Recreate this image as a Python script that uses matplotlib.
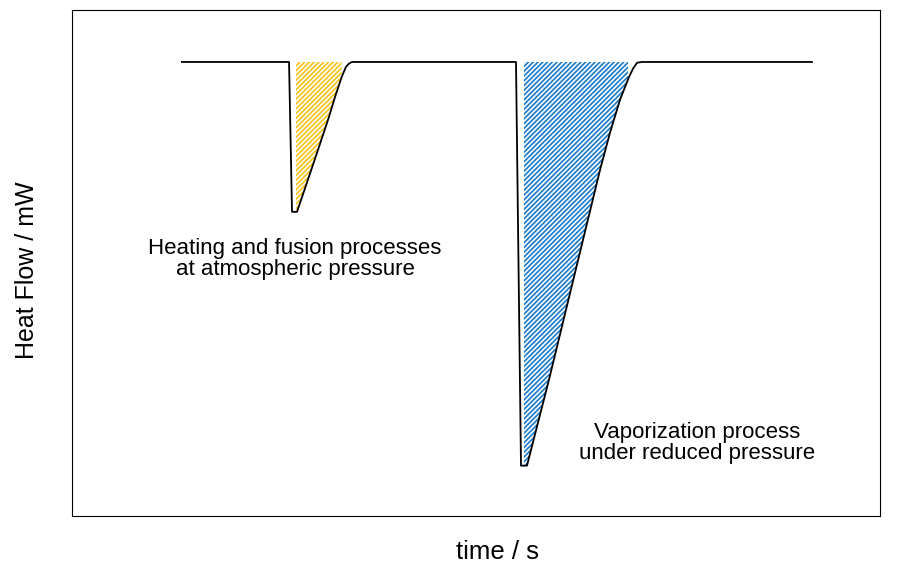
import matplotlib
matplotlib.use("Agg")
import matplotlib.pyplot as plt
import numpy as np

plt.rcParams['font.family'] = ['Liberation Sans', 'DejaVu Sans']
plt.rcParams['hatch.linewidth'] = 1.25

# heat flow trace (time in s, heat flow in mW, arbitrary scale)
time = [13.6, 26.86, 27.23, 27.85, 30.45, 31.81, 32.55, 33.38, 33.91, 34.28, 34.65,
        54.95, 55.57, 56.31, 59.03, 65.35, 66.58, 67.82, 68.94, 69.45, 69.93, 70.54, 91.58]
heat_flow = [0.0, 0.0, -3.72, -3.72, -2.18, -1.36, -0.87, -0.37, -0.12, -0.04, 0.0,
             0.0, -10.02, -10.02, -7.89, -2.68, -1.76, -0.94, -0.37, -0.16, -0.02, 0.0, 0.0]

# integrated regions (start, end time) and colours
fill_ranges = [(27.72, 33.38), (55.94, 68.81)]
fill_colors = ['#F7C31C', '#1F7DCB']

labels = ["Heating and fusion processes\nat atmospheric pressure",
          "Vaporization process\nunder reduced pressure"]
label_pos = [(27.6, -4.89), (77.4, -9.45)]

fig = plt.figure(figsize=(9.05, 5.65), dpi=100)
ax = fig.add_axes([72 / 905, 49 / 565, 808 / 905, 506 / 565])

t = np.array(time)
hf = np.array(heat_flow)

for (t0, t1), c in zip(fill_ranges, fill_colors):
    tt = np.concatenate([[t0], t[(t > t0) & (t < t1)], [t1]])
    yy = np.interp(tt, t, hf)
    ax.fill_between(tt, yy, 0, facecolor='none', edgecolor=c, hatch='///////', linewidth=0)

ax.plot(t, hf, color='black', linewidth=1.3)

for txt, (x, y) in zip(labels, label_pos):
    ax.text(x, y, txt, ha='center', va='center', fontsize=16, linespacing=1.0)

ax.set_xlim(0, 100)
ax.set_ylim(-11.27, 1.29)
ax.set_xticks([])
ax.set_yticks([])
for s in ax.spines.values():
    s.set_linewidth(0.8)

ax.set_xlabel('time / s', fontsize=18.5, labelpad=17.5)
ax.set_ylabel('Heat Flow / mW', fontsize=18, labelpad=24)
ax.xaxis.label.set_x(0.527)
ax.yaxis.label.set_y(0.486)

fig.savefig('out.png', dpi=100)
